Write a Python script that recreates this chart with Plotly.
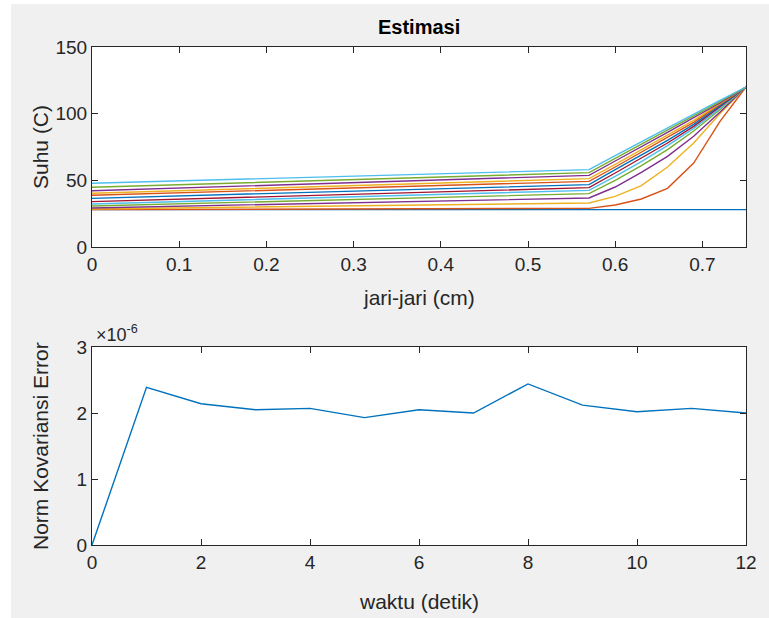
import plotly.graph_objects as go

# ---------------- data ----------------
# top panel: temperature profiles (radius in cm), one curve per time step
radius = [0.0, 0.57, 0.60, 0.63, 0.66, 0.69, 0.72, 0.75]
suhu = [
    [28.0, 28.0, 28.0, 28.0, 28.0, 28.0, 28.0, 28.0],      # t=0
    [28.0, 29.0, 31.5, 36.0, 44.0, 63.0, 94.0, 120.0],     # t=1
    [28.5, 33.0, 38.0, 46.0, 60.0, 78.0, 100.0, 120.0],    # t=2
    [29.3, 36.75, 45.0, 56.0, 68.0, 83.0, 101.0, 120.0],   # t=3
    [30.8, 40.0, 50.0, 61.0, 73.0, 87.0, 103.0, 120.0],    # t=4
    [32.3, 42.5, 53.0, 64.0, 76.0, 89.0, 104.0, 120.0],    # t=5
    [34.0, 44.5, 55.5, 66.5, 78.0, 90.5, 105.0, 120.0],    # t=6
    [36.5, 46.75, 58.0, 69.0, 80.0, 92.0, 106.0, 120.0],   # t=7
    [38.8, 49.25, 60.0, 71.0, 82.0, 93.5, 107.0, 120.0],   # t=8
    [40.3, 51.25, 62.0, 73.0, 84.0, 95.0, 107.5, 120.0],   # t=9
    [42.2, 53.75, 64.5, 75.0, 86.0, 97.0, 108.0, 120.0],   # t=10
    [44.8, 55.75, 66.5, 77.0, 87.5, 98.0, 109.0, 120.0],   # t=11
    [47.8, 58.0, 68.5, 79.0, 89.5, 99.5, 110.0, 120.0],    # t=12
]

# bottom panel: covariance error norm vs time
waktu = [0, 1, 2, 3, 4, 5, 6, 7, 8, 9, 10, 11, 12]
norm_err = [0.0, 2.39e-6, 2.14e-6, 2.05e-6, 2.07e-6, 1.93e-6, 2.05e-6,
            2.0e-6, 2.44e-6, 2.12e-6, 2.02e-6, 2.07e-6, 2.0e-6]

top_xticks = [0, 0.1, 0.2, 0.3, 0.4, 0.5, 0.6, 0.7]
top_yticks = [0, 50, 100, 150]
bot_xticks = [0, 2, 4, 6, 8, 10, 12]
bot_yticks = [0, 1e-6, 2e-6, 3e-6]
bot_yticktext = ["0", "1", "2", "3"]

colors = ["#0072BD", "#D95319", "#EDB120", "#7E2F8E",
          "#77AC30", "#4DBEEE", "#A2142F"]

# ---------------- figure ----------------
W, H = 769, 618
FONT = "Liberation Sans, Arial, sans-serif"
TXT = "#262626"

fig = go.Figure()
for i, row in enumerate(suhu):
    fig.add_trace(go.Scatter(x=radius, y=row, mode="lines",
                             line=dict(color=colors[i % 7], width=1.4),
                             xaxis="x", yaxis="y", showlegend=False))

fig.add_trace(go.Scatter(x=waktu, y=norm_err, mode="lines",
                         line=dict(color="#0072BD", width=1.4),
                         xaxis="x2", yaxis="y2", showlegend=False))

def px_x(p):
    return p / W

def px_y(p):
    return 1 - p / H

axis_common = dict(showgrid=False, zeroline=False, showline=True, mirror="ticks",
                   linecolor=TXT, linewidth=1, ticks="inside", ticklen=6,
                   tickcolor=TXT, tickwidth=1, automargin=False,
                   tickfont=dict(family=FONT, size=19, color=TXT))

fig.update_layout(
    width=W, height=H,
    margin=dict(l=0, r=0, t=0, b=0, pad=0, autoexpand=False),
    paper_bgcolor="#f0f0f0",
    plot_bgcolor="#ffffff",
    xaxis=dict(domain=[px_x(92), px_x(746)], anchor="y", range=[0, 0.75],
               tickvals=top_xticks, **axis_common),
    yaxis=dict(domain=[px_y(247), px_y(47)], anchor="x", range=[0, 150],
               tickvals=top_yticks, **axis_common),
    xaxis2=dict(domain=[px_x(92), px_x(746)], anchor="y2", range=[0, 12],
                tickvals=bot_xticks, **axis_common),
    yaxis2=dict(domain=[px_y(545), px_y(347)], anchor="x2", range=[0, 3e-6],
                tickvals=bot_yticks, ticktext=bot_yticktext, **axis_common),
    shapes=[
        dict(type="rect", xref="paper", yref="paper", x0=0, x1=px_x(11), y0=0, y1=1,
             fillcolor="#ffffff", line=dict(width=0), layer="below"),
        dict(type="rect", xref="paper", yref="paper", x0=0, x1=1, y0=px_y(4), y1=1,
             fillcolor="#ffffff", line=dict(width=0), layer="below"),
    ],
    annotations=[
        dict(text="<b>Estimasi</b>", x=px_x(419), y=px_y(27), xref="paper", yref="paper",
             showarrow=False, font=dict(family=FONT, size=20, color="#000000"),
             xanchor="center", yanchor="middle"),
        dict(text="jari-jari (cm)", x=px_x(419), y=px_y(297), xref="paper", yref="paper",
             showarrow=False, font=dict(family=FONT, size=21, color=TXT),
             xanchor="center", yanchor="middle"),
        dict(text="Suhu (C)", x=px_x(40), y=px_y(147), xref="paper", yref="paper",
             showarrow=False, textangle=-90, font=dict(family=FONT, size=21, color=TXT),
             xanchor="center", yanchor="middle"),
        dict(text="waktu (detik)", x=px_x(419), y=px_y(601), xref="paper", yref="paper",
             showarrow=False, font=dict(family=FONT, size=21, color=TXT),
             xanchor="center", yanchor="middle"),
        dict(text="Norm Kovariansi Error", x=px_x(40), y=px_y(446), xref="paper", yref="paper",
             showarrow=False, textangle=-90, font=dict(family=FONT, size=21, color=TXT),
             xanchor="center", yanchor="middle"),
        dict(text="×10<sup>-6</sup>", x=px_x(94), y=px_y(333), xref="paper", yref="paper",
             showarrow=False, font=dict(family=FONT, size=18, color=TXT),
             xanchor="left", yanchor="middle"),
    ],
)

fig.write_html("out.html")
